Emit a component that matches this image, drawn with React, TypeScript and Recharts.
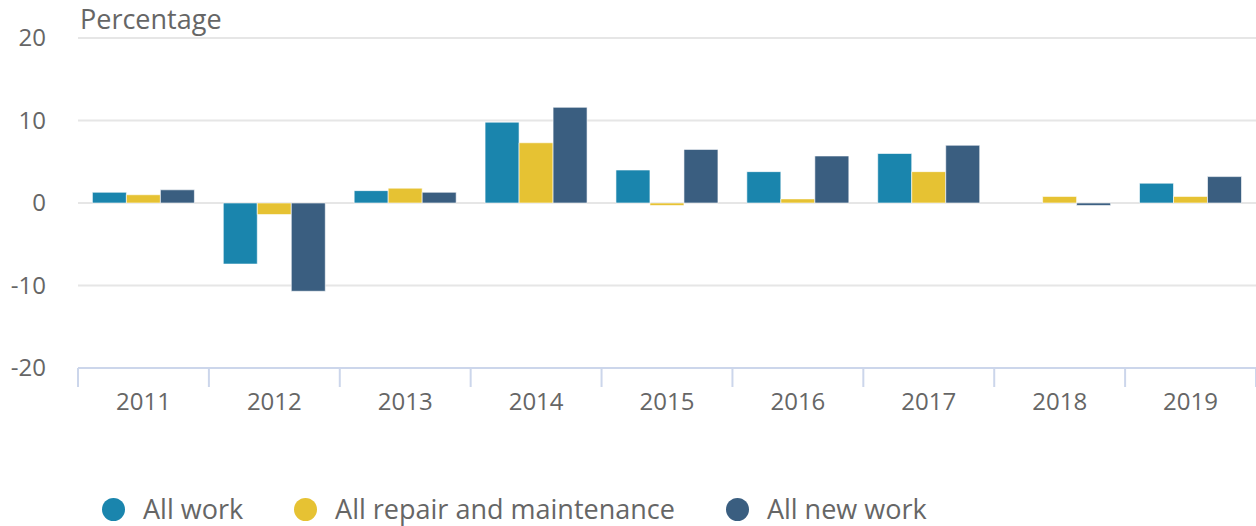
import React from "react";
import { BarChart, Bar, XAxis, YAxis, CartesianGrid } from "recharts";

const years = ["2011", "2012", "2013", "2014", "2015", "2016", "2017", "2018", "2019"];
const allWork = [1.3, -7.4, 1.5, 9.8, 4.0, 3.8, 6.0, 0, 2.4];
const repairMaintenance = [1.0, -1.4, 1.8, 7.3, -0.3, 0.5, 3.8, 0.8, 0.8];
const allNewWork = [1.6, -10.7, 1.3, 11.6, 6.5, 5.7, 7.0, -0.3, 3.2];
const yTicks = [-20, -10, 0, 10, 20];

const seriesList = [
  { key: "allWork", name: "All work", color: "#1a85ad" },
  { key: "repair", name: "All repair and maintenance", color: "#e6c233" },
  { key: "newWork", name: "All new work", color: "#3a5e80" },
];

const data = years.map((y, i) => ({
  year: y,
  allWork: allWork[i],
  repair: repairMaintenance[i],
  newWork: allNewWork[i],
}));

const W = 1256;
const H = 526;
const LEFT = 78;
const TOP = 38;
const XAXIS_H = 30;
const BOTTOM = 158 - XAXIS_H;
const FONT = "'Open Sans', sans-serif";
const TEXT = "#666666";

const XTick = (props: any) => {
  const { x, y, payload, index } = props;
  const band = (W - LEFT) / years.length;
  const left = x - band / 2;
  return (
    <g>
      <line x1={left} y1={y} x2={left} y2={y + 19} stroke="#ccd6eb" strokeWidth={2} />
      {index === years.length - 1 && (
        <line x1={left + band} y1={y} x2={left + band} y2={y + 19} stroke="#ccd6eb" strokeWidth={2} />
      )}
      <text x={x} y={y + 42} textAnchor="middle" fontSize={24} fill={TEXT} fontFamily={FONT}>
        {payload.value}
      </text>
    </g>
  );
};

const YTick = (props: any) => {
  const { x, y, payload } = props;
  return (
    <text x={x - 32} y={y + 8} textAnchor="end" fontSize={24} fill={TEXT} fontFamily={FONT}>
      {payload.value}
    </text>
  );
};

export default function App() {
  return (
    <div style={{ position: "absolute", left: 0, top: 0, width: W, height: H, background: "#fff" }}>
      <BarChart
        width={W}
        height={H}
        data={data}
        margin={{ top: TOP, right: 0, bottom: BOTTOM, left: 0 }}
        barCategoryGap="11%"
        barGap={0}
      >
        <CartesianGrid vertical={false} stroke="#e6e6e6" strokeWidth={2} />
        <XAxis
          dataKey="year"
          height={XAXIS_H}
          tick={<XTick />}
          tickLine={false}
          tickSize={0}
          tickMargin={0}
          axisLine={{ stroke: "#ccd6eb", strokeWidth: 2 }}
          interval={0}
        />
        <YAxis
          width={LEFT}
          domain={[-20, 20]}
          ticks={yTicks}
          tick={<YTick />}
          tickLine={false}
          tickSize={0}
          tickMargin={0}
          axisLine={false}
          interval={0}
        />
        {seriesList.map((s) => (
          <Bar
            key={s.key}
            dataKey={s.key}
            name={s.name}
            fill={s.color}
            stroke="rgba(255,255,255,0.6)"
            strokeWidth={1}
            isAnimationActive={false}
          />
        ))}
        <text x={80} y={29} fontSize={27} fill={TEXT} fontFamily={FONT}>
          Percentage
        </text>
      </BarChart>
      <div
        style={{
          position: "absolute",
          left: 102,
          top: 494,
          display: "flex",
          alignItems: "center",
          fontFamily: FONT,
          fontSize: 27,
          color: TEXT,
          whiteSpace: "nowrap",
        }}
      >
        {seriesList.map((s, i) => (
          <div key={s.key} style={{ display: "flex", alignItems: "center", marginRight: i < seriesList.length - 1 ? 51 : 0 }}>
            <span
              style={{
                display: "inline-block",
                width: 23,
                height: 23,
                borderRadius: "50%",
                background: s.color,
                marginRight: 18,
              }}
            />
            <span style={{ lineHeight: "30px" }}>{s.name}</span>
          </div>
        ))}
      </div>
    </div>
  );
}
